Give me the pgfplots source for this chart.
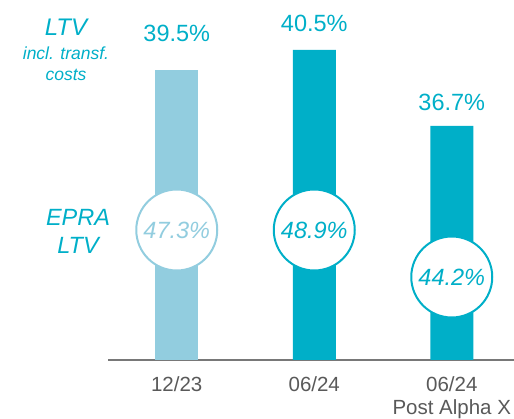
\documentclass[border=0pt]{standalone}
\usepackage{pgfplots}
\pgfplotsset{compat=1.18}
\usepackage{fontspec}
\setmainfont{Liberation Sans}
\definecolor{lblue}{RGB}{146,205,223}
\definecolor{tealc}{RGB}{0,175,200}
\definecolor{tickgray}{RGB}{89,89,89}
\definecolor{axgray}{RGB}{120,120,120}
\begin{document}
\begin{tikzpicture}
\path[use as bounding box] (-108pt,-59pt) rectangle (406pt,360pt);
\begin{axis}[
  at={(0,0)}, anchor=south west,
  scale only axis, width=406pt, height=360pt,
  xmin=-0.5, xmax=2.4527, ymin=25, ymax=43,
  axis x line=bottom, axis y line=none,
  axis line style={axgray, line width=1.4pt, -},
  x axis line style={-},
  xtick={0,1,2}, xticklabels={12/23,06/24,06/24\\Post Alpha X},
  major tick length=0pt,
  xticklabel style={align=center, text=tickgray, font=\fontsize{20.5}{23.5}\selectfont, yshift=-13pt},
  ytick=\empty,
  clip=false,
  nodes near coords style={anchor=center},
]
% bars
\addplot[ybar, bar width=43pt, bar shift=0pt, fill=lblue, draw=none] coordinates {(0,39.5)};
\addplot[ybar, bar width=43pt, bar shift=0pt, fill=tealc, draw=none] coordinates {(1,40.5) (2,36.7)};
% LTV value labels
\addplot[only marks, mark=none, point meta=explicit symbolic,
  nodes near coords, every node near coord/.append style={anchor=center, text=tealc, font=\fontsize{23.5}{28}\selectfont}]
  coordinates {(0,41.35) [39.5\%] (1,41.85) [40.5\%] (2,37.9) [36.7\%]};
% EPRA circles
\addplot[only marks, mark=*, mark size=40.5pt, mark options={draw=lblue, fill=white, line width=2pt},
  point meta=explicit symbolic,
  nodes near coords, every node near coord/.append style={anchor=center, text=lblue, font=\fontsize{23.5}{28}\selectfont\itshape}]
  coordinates {(0,31.5) [47.3\%]};
\addplot[only marks, mark=*, mark size=40.5pt, mark options={draw=tealc, fill=white, line width=2pt},
  point meta=explicit symbolic,
  nodes near coords, every node near coord/.append style={anchor=center, text=tealc, font=\fontsize{23.5}{28}\selectfont\itshape}]
  coordinates {(1,31.5) [48.9\%] (2,29.15) [44.2\%]};
\end{axis}
\node[text=tealc, font=\fontsize{24}{28}\selectfont\itshape] at (-42pt,333pt) {LTV};
\node[text=tealc, font=\fontsize{17.5}{21}\selectfont\itshape, align=center] at (-42pt,296pt) {incl. transf.\\costs};
\node[text=tealc, font=\fontsize{23.5}{28}\selectfont\itshape, align=center] at (-30pt,129pt) {EPRA\\LTV};
\end{tikzpicture}
\end{document}
